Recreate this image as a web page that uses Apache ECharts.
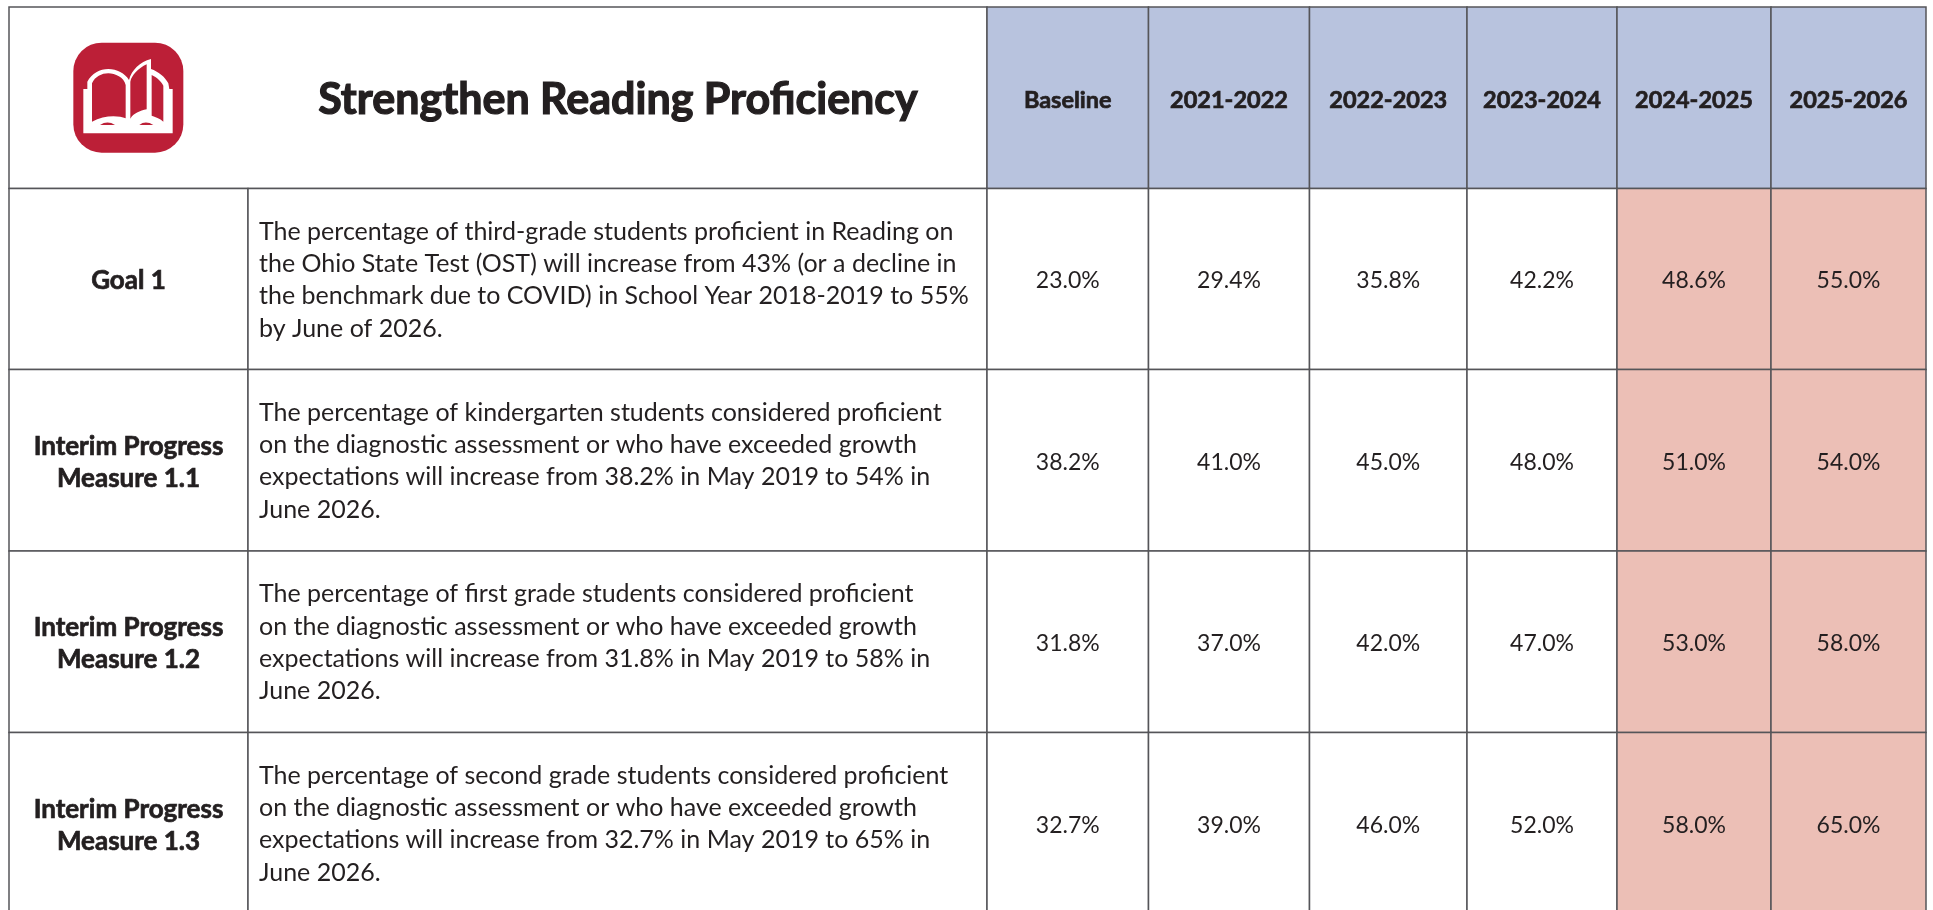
<!DOCTYPE html>
<html>
<head>
<meta charset="utf-8">
<title>Strengthen Reading Proficiency</title>
<script src="https://cdn.jsdelivr.net/npm/echarts@6/dist/echarts.min.js"></script>
<style>
html, body { margin: 0; padding: 0; background: #ffffff; overflow: hidden; }
#echart1 { width: 1933px; height: 910px; }
</style>
</head>
<body>
<div id="echart1"></div>
<script>
var chartTitle = "Strengthen Reading Proficiency";
var columns = ["Baseline", "2021-2022", "2022-2023", "2023-2024", "2024-2025", "2025-2026"];
var rowNames = ["Goal 1", "Interim Progress\nMeasure 1.1", "Interim Progress\nMeasure 1.2", "Interim Progress\nMeasure 1.3"];
var rowTexts = [
	"The percentage of third-grade students proficient in Reading on\nthe Ohio State Test (OST) will increase from 43% (or a decline in\nthe benchmark due to COVID) in School Year 2018-2019 to 55%\nby June of 2026.",
	"The percentage of kindergarten students considered proficient\non the diagnostic assessment or who have exceeded growth\nexpectations will increase from 38.2% in May 2019 to 54% in\nJune 2026.",
	"The percentage of first grade students considered proficient\non the diagnostic assessment or who have exceeded growth\nexpectations will increase from 31.8% in May 2019 to 58% in\nJune 2026.",
	"The percentage of second grade students considered proficient\non the diagnostic assessment or who have exceeded growth\nexpectations will increase from 32.7% in May 2019 to 65% in\nJune 2026."
];
var goal1 = [23.0, 29.4, 35.8, 42.2, 48.6, 55.0];
var measure11 = [38.2, 41.0, 45.0, 48.0, 51.0, 54.0];
var measure12 = [31.8, 37.0, 42.0, 47.0, 53.0, 58.0];
var measure13 = [32.7, 39.0, 46.0, 52.0, 58.0, 65.0];
var rowValues = [goal1, measure11, measure12, measure13];

// 表格线位置
var colEdges = [987, 1148.5, 1309.5, 1467, 1617, 1771, 1926];
var rowEdges = [188.5, 369.5, 551, 732.5, 914];
var tableLeft = 9;
var tableTop = 7;
var nameRight = 248;
var textLeft = 259;

var lineColor = "#555559";
var textColor = "#231f20";
var headFill = "#b8c3de";
var pinkFill = "#ecbfb6";
var iconFill = "#bc1f37";
var fontName = "Lato, 'Noto Sans', sans-serif";

function cell(api, x0, y0, x1, y1, fill, label) {
	var p0 = api.coord([x0, y0]);
	var p1 = api.coord([x1, y1]);
	var children = [ {
		type : 'rect',
		shape : { x : p0[0], y : p0[1], width : p1[0] - p0[0], height : p1[1] - p0[1] },
		style : { fill : fill, stroke : lineColor, lineWidth : 1.5 }
	} ];
	if (label) {
		children.push({
			type : 'text',
			style : {
				x : label.left != null ? label.left : (p0[0] + p1[0]) / 2 + (label.dx || 0),
				y : (p0[1] + p1[1]) / 2 + (label.dy || 0),
				text : label.text,
				fill : textColor,
				stroke : label.heavy ? textColor : null,
				lineWidth : label.heavy || 0,
				font : label.font,
				lineHeight : label.lineHeight,
				align : label.left != null ? 'left' : 'center',
				verticalAlign : 'middle'
			}
		});
	}
	return { type : 'group', children : children };
}

// 表头
function renderHead(params, api) {
	var c = api.value(0);
	return cell(api, colEdges[c], tableTop, colEdges[c + 1], rowEdges[0], headFill, {
		text : columns[c],
		font : "700 23.5px " + fontName,
		heavy : 0.7,
		dy : 3
	});
}

// 标题格
function renderTitle(params, api) {
	return cell(api, tableLeft, tableTop, colEdges[0], rowEdges[0], "#ffffff", {
		text : chartTitle,
		font : "700 43px " + fontName,
		heavy : 1.2,
		dx : 120,
		dy : 2
	});
}

// 左侧名称和说明
function renderName(params, api) {
	var r = api.value(0);
	return cell(api, tableLeft, rowEdges[r], nameRight, rowEdges[r + 1], "#ffffff", {
		text : rowNames[r],
		font : "700 26px " + fontName,
		heavy : 0.7,
		lineHeight : 32,
		dy : 2
	});
}

function renderText(params, api) {
	var r = api.value(0);
	return cell(api, nameRight, rowEdges[r], colEdges[0], rowEdges[r + 1], "#ffffff", {
		text : rowTexts[r],
		font : "400 25px " + fontName,
		lineHeight : 32.3,
		left : textLeft,
		dy : 1
	});
}

// 数值格，最后两年标红
function renderValue(params, api) {
	var c = api.value(0);
	var r = api.value(1);
	return cell(api, colEdges[c], rowEdges[r], colEdges[c + 1], rowEdges[r + 1], c >= 4 ? pinkFill : "#ffffff", {
		text : api.value(2).toFixed(1) + "%",
		font : "400 23px " + fontName,
		dy : 2
	});
}

function iconPath(d, fill) {
	return { type : 'path', shape : { pathData : d }, style : { fill : fill } };
}

// 书本图标
function renderIcon(params, api) {
	var p = api.coord([50, 20]);
	return {
		type : 'group',
		x : p[0],
		y : p[1],
		scaleX : 1 / 3,
		scaleY : 1 / 3,
		children : [ {
			type : 'rect',
			shape : { x : 70, y : 68, width : 330, height : 330, r : 85 },
			style : { fill : iconFill }
		},
		iconPath('M100 340 L100 207 L112 207 L112 185 C125 160 150 147 175 147 C200 147 225 160 237 180 C245 150 270 125 303 117 L303 147 C325 155 345 170 355 190 L358 207 L368 207 L368 340 Z', '#ffffff'),
		iconPath('M126 305 L126 190 C135 170 155 160 175 160 C195 160 222 172 227 195 L227 295 C205 285 160 285 126 305 Z', iconFill),
		iconPath('M241 296 L241 185 C245 165 265 145 290 133 L290 268 C270 272 250 280 241 296 Z', iconFill),
		iconPath('M305 165 C320 172 335 185 340 197 L340 305 C330 295 315 290 305 287 Z', iconFill),
		iconPath('M150 315 C165 305 180 305 195 315 Z', iconFill),
		iconPath('M268 315 C280 305 295 305 310 315 Z', iconFill) ]
	};
}

var headData = [];
for (var i = 0; i < columns.length; i++) {
	headData.push([ i ]);
}
var rowData = [];
var valueData = [];
for (var r = 0; r < rowValues.length; r++) {
	rowData.push([ r ]);
	for (var c = 0; c < columns.length; c++) {
		valueData.push([ c, r, rowValues[r][c] ]);
	}
}

function customSeries(render, data) {
	return {
		type : 'custom',
		coordinateSystem : 'cartesian2d',
		renderItem : render,
		data : data,
		encode : { x : 0, y : 0 },
		clip : false,
		silent : true,
		animation : false
	};
}

option = {
	backgroundColor : '#ffffff',
	animation : false,
	grid : { left : 0, right : 0, top : 0, bottom : 0 },
	xAxis : { type : 'value', min : 0, max : 1933, show : false },
	yAxis : { type : 'value', min : 0, max : 910, inverse : true, show : false },
	series : [
		customSeries(renderTitle, [ [ 0 ] ]),
		customSeries(renderHead, headData),
		customSeries(renderName, rowData),
		customSeries(renderText, rowData),
		customSeries(renderValue, valueData),
		customSeries(renderIcon, [ [ 0 ] ])
	]
};

var myCharts1 = echarts.init(document.getElementById('echart1'));
myCharts1.setOption(option, true);
</script>
</body>
</html>
